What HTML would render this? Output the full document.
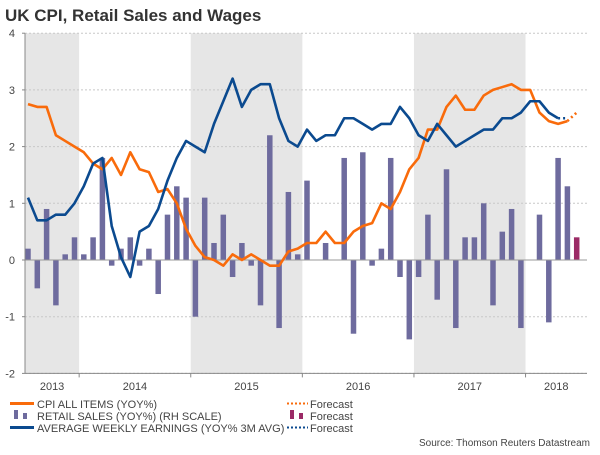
<!DOCTYPE html>
<html><head><meta charset="utf-8"><style>
body{margin:0;background:#fff;font-family:"Liberation Sans",sans-serif;}
svg text{font-family:"Liberation Sans",sans-serif;}
</style></head><body>
<svg id="chart" width="600" height="450" xmlns="http://www.w3.org/2000/svg">
<text x="5" y="21" font-size="17" font-weight="bold" fill="#333">UK CPI, Retail Sales and Wages</text>
<g id="bands"></g><g id="grid"></g><g id="bars"></g><g id="lines"></g><g id="axes"></g>
<g font-size="11" fill="#444">
<rect x="10" y="402" width="24" height="3" fill="#f96b0b"/>
<text x="37" y="408">CPI ALL ITEMS (YOY%)</text>
<rect x="14" y="410" width="4" height="9" fill="#6e6b9e"/>
<rect x="23" y="413" width="4" height="6" fill="#6e6b9e"/>
<text x="37" y="420">RETAIL SALES (YOY%) (RH SCALE)</text>
<rect x="10" y="426" width="24" height="3" fill="#0b4a8f"/>
<text x="37" y="432">AVERAGE WEEKLY EARNINGS (YOY% 3M AVG)</text>
<line x1="287" y1="403.5" x2="308" y2="403.5" stroke="#f96b0b" stroke-width="2" stroke-dasharray="2,2"/>
<text x="310" y="408">Forecast</text>
<rect x="290" y="410" width="4" height="9" fill="#9b2a66"/>
<rect x="299" y="413" width="4" height="6" fill="#9b2a66"/>
<text x="310" y="420">Forecast</text>
<line x1="287" y1="427.5" x2="308" y2="427.5" stroke="#0b4a8f" stroke-width="2" stroke-dasharray="2,2"/>
<text x="310" y="432">Forecast</text>
</g>
<text x="590" y="446" font-size="10" fill="#444" text-anchor="end">Source: Thomson Reuters Datastream</text>
</svg>
<script>
const yTicks=[4,3,2,1,0,-1,-2];
const years=["2013","2014","2015","2016","2017","2018"];
const yearStartIdx=[-6,6,18,30,42,54];
const shadedYears=[0,2,4];
const retail=[0.2,-0.5,0.9,-0.8,0.1,0.4,0.1,0.4,1.8,-0.1,0.2,0.4,-0.1,0.2,-0.6,0.8,1.3,1.1,-1.0,1.1,0.3,0.8,-0.3,0.3,-0.1,-0.8,2.2,-1.2,1.2,0.1,1.4,0,0.3,0,1.8,-1.3,1.9,-0.1,0.2,1.8,-0.3,-1.4,-0.3,0.8,-0.7,1.6,-1.2,0.4,0.4,1.0,-0.8,0.5,0.9,-1.2,0,0.8,-1.1,1.8,1.3];
const retailForecast=[0.4];
const cpi=[2.75,2.7,2.7,2.2,2.1,2.0,1.9,1.7,1.6,1.8,1.5,1.9,1.6,1.55,1.2,1.25,1.0,0.55,0.25,0.05,0.0,-0.1,0.1,0.0,0.1,0.0,-0.1,-0.1,0.15,0.2,0.3,0.3,0.5,0.3,0.3,0.5,0.6,0.65,1.0,0.9,1.2,1.6,1.8,2.3,2.3,2.7,2.9,2.65,2.65,2.9,3.0,3.05,3.1,3.0,3.0,2.6,2.45,2.4,2.45];
const cpiForecast=[2.6];
const earnings=[1.1,0.7,0.7,0.8,0.8,1.0,1.3,1.7,1.8,0.6,0.05,-0.3,0.5,0.6,0.9,1.4,1.8,2.1,2.0,1.9,2.4,2.8,3.2,2.7,3.0,3.1,3.1,2.5,2.1,2.0,2.3,2.1,2.2,2.2,2.5,2.5,2.4,2.3,2.4,2.4,2.7,2.5,2.2,2.1,2.4,2.2,2.0,2.1,2.2,2.3,2.3,2.5,2.5,2.6,2.8,2.8,2.6,2.5];
const earningsForecast=[2.5];

const NS="http://www.w3.org/2000/svg";
const X0=25,X1=587,Y0=260,UNIT=56.7,STEP=9.3,FIRST=28;
const xs=i=>FIRST+STEP*i;
const ys=v=>Y0-v*UNIT;
function mk(tag,attrs,parent){const e=document.createElementNS(NS,tag);for(const k in attrs)e.setAttribute(k,attrs[k]);document.getElementById(parent).appendChild(e);return e;}
const yearEdge=k=>Math.max(X0,Math.min(X1,xs(yearStartIdx[k])-STEP/2));
const yearEnd=k=>k+1<years.length?yearEdge(k+1):X1;
shadedYears.forEach(k=>{
 const r=mk('rect',{x:yearEdge(k),y:ys(4),width:yearEnd(k)-yearEdge(k),height:ys(-2)-ys(4),fill:'#e6e6e6'},'bands');
 
 
});
yTicks.forEach(v=>{
 const l=mk('line',{x1:X0,x2:X1,y1:ys(v),y2:ys(v),stroke:'#c8c8c8','stroke-width':1,'stroke-dasharray':'2,2'},'grid');
 
 
 const t=mk('text',{x:15,y:ys(v)+4,'font-size':11,fill:'#444','text-anchor':'end'},'axes');
 t.textContent=String(v);
 
 
 const tk=mk('line',{x1:X0-3,x2:X0,y1:ys(v),y2:ys(v),stroke:'#888'},'axes');
 
 
});
const bw=5.5;
retail.forEach((v,i)=>{
 const b=mk('rect',{x:xs(i)-bw/2,y:Math.min(ys(v),Y0),width:bw,height:Math.abs(ys(v)-Y0),fill:'#6e6b9e'},'bars');
 
 
});
retailForecast.forEach((v,j)=>{
 const i=retail.length+j;
 const b=mk('rect',{x:xs(i)-bw/2,y:Math.min(ys(v),Y0),width:bw,height:Math.abs(ys(v)-Y0),fill:'#9b2a66'},'bars');
 
 
});
const zl=mk('line',{x1:X0,x2:X1,y1:Y0,y2:Y0,stroke:'#999'},'bars');


function series(arr,fc,color,name){
 const p=mk('polyline',{points:arr.map((v,i)=>xs(i)+','+ys(v)).join(' '),fill:'none',stroke:color,'stroke-width':2.6,'stroke-linejoin':'round'},'lines');
 
 
 const n=arr.length-1;
 const pts=[xs(n)+','+ys(arr[n])].concat(fc.map((v,j)=>xs(n+1+j)+','+ys(v)));
 const f=mk('polyline',{points:pts.join(' '),fill:'none',stroke:color,'stroke-width':2.6,'stroke-dasharray':'2,3'},'lines');
 
 
}
series(cpi,cpiForecast,'#f96b0b','cpi');
series(earnings,earningsForecast,'#0b4a8f','earnings');
const ya=mk('line',{x1:X0,x2:X0,y1:ys(4),y2:ys(-2),stroke:'#888'},'axes');


const xa=mk('line',{x1:X0,x2:X1,y1:ys(-2),y2:ys(-2),stroke:'#888'},'axes');


years.forEach((y,k)=>{
 if(k>0){const tk=mk('line',{x1:yearEdge(k),x2:yearEdge(k),y1:ys(-2),y2:ys(-2)+4,stroke:'#888'},'axes');
 
 }
 const t=mk('text',{x:(yearEdge(k)+yearEnd(k))/2,y:390,'font-size':11,fill:'#444','text-anchor':'middle'},'axes');
 t.textContent=y;
 
 
});
</script>
</body></html>
